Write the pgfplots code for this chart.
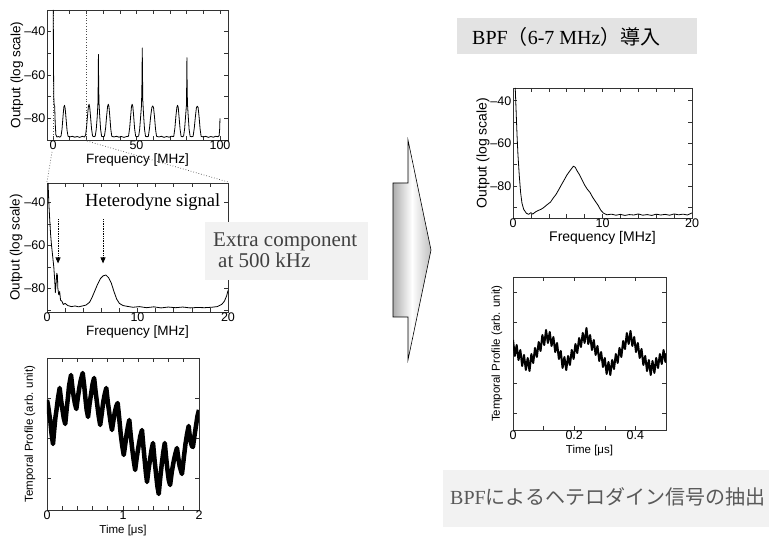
\documentclass[border=0pt]{standalone}
\usepackage{fontspec}
\setmainfont{Liberation Sans}
\newfontfamily\serif{Liberation Serif}
\newfontfamily\cjk{Noto Sans CJK JP}
\usepackage{pgfplots}
\pgfplotsset{compat=1.18}
\usetikzlibrary{arrows.meta}
\definecolor{boxlight}{HTML}{F2F2F2}
\definecolor{boxtitle}{HTML}{E3E3E3}
\definecolor{txtdark}{HTML}{404040}
\definecolor{txtgray}{HTML}{595959}

\pgfplotsset{
  matlab/.style={
    scale only axis,
    axis line style={line width=0.7pt,black!80},
    tick align=inside,
    major tick length=4pt, minor tick length=4pt,
    tick style={line width=0.6pt,black!80},
    minor tick style={line width=0.6pt,black!80},
    tick label style={font=\fontsize{12.5}{14}\selectfont},
    xticklabel style={inner sep=1pt},
    yticklabel style={inner sep=1.5pt},
    label style={font=\fontsize{13.5}{15}\selectfont},
  },
  curve/.style={black, line width=0.8pt, line join=round, no marks},
}

\begin{document}
\begin{tikzpicture}
\path[use as bounding box] (0,0) rectangle (769pt,537pt);

% top left: full spectrum 0-100 MHz
\begin{axis}[matlab, at={(47pt,527pt)}, anchor=north west,
  width=181pt, height=130pt,
  xmin=-3.6, xmax=104.8, ymin=-90, ymax=-30,
  xtick={0,50,100}, xticklabels={0,50,100},
  minor xtick={10,20,30,40,60,70,80,90},
  ytick={-80,-60,-40}, yticklabels={\textendash80,\textendash60,\textendash40},
  minor ytick={-70,-50},
  xlabel={Frequency [MHz]}, ylabel={Output (log scale)},
  xlabel style={at={(axis description cs:0.5,-0.154)},anchor=center},
  ylabel style={at={(axis description cs:-0.166,0.5)},anchor=center}]
\draw[black!70, dotted, line width=0.7pt] (axis cs:0,-90) -- (axis cs:0,-30);
\draw[black!70, dotted, line width=0.7pt] (axis cs:20,-90) -- (axis cs:20,-30);
\addplot[curve] coordinates {
(0.15,-30) (0.3,-55) (0.45,-70) (0.7,-74) (1.0,-74.5) (1.3,-82) (1.7,-87.5) (2.3,-88.6) (3.2,-88.4) (4.1,-88.7)
(4.8,-88.2) (5.4,-85) (6.0,-79) (6.5,-74.8) (6.9,-74) (7.3,-75.5) (7.8,-80) (8.4,-85.5) (9.0,-88.3)
(10.0,-88.6) (11.5,-88.3) (13.0,-88.7) (14.5,-88.4) (16.0,-88.8) (17.5,-88.3) (18.8,-88.6)
(19.5,-87.8) (20.1,-84) (20.7,-78.5) (21.2,-74.5) (21.6,-73.5) (22.0,-75) (22.5,-79.5) (23.1,-85) (23.7,-88.2)
(24.5,-88.5) (25.3,-88.2) (25.9,-85) (26.5,-79) (26.9,-73) (27.1,-62) (27.2,-50.5) (27.3,-60) (27.5,-72) (27.9,-78) (28.5,-85) (29.1,-88.3)
(30.0,-88.5) (30.8,-88.2) (31.5,-84.5) (32.1,-79) (32.7,-74.5) (33.1,-73.5) (33.5,-74.5) (34.0,-79) (34.6,-85) (35.2,-88.3)
(36.5,-88.6) (38.0,-88.3) (39.5,-88.7) (41.0,-88.4) (42.5,-88.8) (44.0,-88.4) (45.2,-88.3)
(45.9,-84.5) (46.5,-79) (47.0,-74.5) (47.4,-73.5) (47.8,-74.5) (48.3,-79) (48.9,-85) (49.5,-88.3)
(50.5,-88.5) (51.3,-88.2) (51.9,-85) (52.5,-79) (53.0,-74) (53.3,-62) (53.45,-47.5) (53.6,-60) (53.8,-72) (54.2,-78) (54.8,-85) (55.4,-88.3)
(56.3,-88.5) (57.1,-88.3) (57.8,-84.5) (58.5,-79) (59.2,-75) (59.7,-74.3) (60.2,-75) (60.8,-79.5) (61.4,-85) (62.0,-88.3)
(63.5,-88.6) (65.0,-88.3) (66.5,-88.8) (68.0,-88.4) (69.5,-88.7) (71.0,-88.3) (72.3,-88.4)
(73.0,-84.5) (73.6,-79) (74.2,-74.8) (74.6,-74) (75.0,-75) (75.5,-79.5) (76.1,-85) (76.7,-88.3)
(77.5,-88.5) (78.2,-88.2) (78.8,-85) (79.4,-79) (79.9,-74) (80.1,-62) (80.2,-52) (80.3,-62) (80.5,-73) (80.9,-78) (81.5,-85) (82.1,-88.3)
(83.0,-88.5) (83.9,-88.3) (84.6,-84.5) (85.3,-79) (85.9,-75) (86.4,-74.4) (86.9,-75) (87.5,-79.5) (88.1,-85) (88.7,-88.3)
(90.0,-88.6) (91.5,-88.3) (93.0,-88.8) (94.5,-88.4) (96.0,-88.7) (97.5,-88.3) (98.8,-88.5) (99.5,-88) (99.8,-85) (100.0,-80)
};
\end{axis}

% middle left: zoom 0-20 MHz
\begin{axis}[matlab, at={(47pt,354pt)}, anchor=north west,
  width=181pt, height=129pt,
  xmin=0, xmax=20, ymin=-91, ymax=-31,
  xtick={0,10,20}, xticklabels={0,10,20}, minor x tick num=4,
  ytick={-80,-60,-40}, yticklabels={\textendash80,\textendash60,\textendash40},
  minor ytick={-90,-70,-50},
  xlabel={Frequency [MHz]}, ylabel={Output (log scale)},
  xlabel style={at={(axis description cs:0.5,-0.158)},anchor=center},
  ylabel style={at={(axis description cs:-0.171,0.5)},anchor=center}]
\addplot[curve] coordinates {
(0.12,-31) (0.2,-40) (0.3,-48) (0.4,-55) (0.5,-60) (0.6,-64) (0.75,-70) (0.85,-76) (0.92,-82) (1.0,-78) (1.08,-73) (1.15,-74)
(1.2,-80) (1.3,-83) (1.4,-81.5) (1.5,-85.5) (1.65,-86) (1.8,-87.5) (2.0,-87) (2.3,-88) (2.7,-88.5) (3.1,-88.2) (3.5,-88.6)
(3.9,-88.2) (4.3,-87.8) (4.7,-86.5) (5.0,-84) (5.3,-81) (5.6,-78) (5.9,-75.5) (6.2,-74.2) (6.5,-73.8) (6.8,-75) (7.1,-77.5)
(7.4,-81.5) (7.7,-85) (8.0,-87) (8.4,-88) (8.9,-88.4) (9.5,-88.8) (10.2,-88.5) (11.0,-89) (11.8,-88.6) (12.6,-89.1) (13.4,-88.7)
(14.2,-89) (15.0,-88.7) (15.8,-89.1) (16.6,-88.9) (17.4,-89) (18.2,-88.8) (18.8,-88.5) (19.3,-87.5) (19.6,-86) (19.85,-83.5) (20,-81)
};
\draw[black, densely dotted, line width=0.7pt, -{Triangle[width=5pt,length=6pt]}] (axis cs:1.22,-47.8) -- (axis cs:1.22,-68.4);
\draw[black, densely dotted, line width=0.7pt, -{Triangle[width=5pt,length=6pt]}] (axis cs:6.19,-47.8) -- (axis cs:6.19,-68.4);
\end{axis}

% bottom left: temporal profile 0-2 us
\begin{axis}[matlab, at={(47pt,179pt)}, anchor=north west,
  width=152pt, height=152pt,
  xmin=0, xmax=2, ymin=0, ymax=152,
  xtick={0,1,2}, xticklabels={0,1,2}, minor x tick num=4,
  ytick={32,72,112}, yticklabels={},
  label style={font=\fontsize{11.5}{13}\selectfont},
  xlabel={Time [μs]}, ylabel={Temporal Profile (arb. unit)},
  xlabel style={at={(axis description cs:0.5,-0.132)},anchor=center},
  ylabel style={at={(axis description cs:-0.112,0.5)},anchor=center}]
\addplot[black, line width=4.5pt, line join=round, no marks] coordinates {
(0.000,110) (0.015,104) (0.030,96) (0.045,88) (0.060,76) (0.079,66) (0.095,80) (0.110,92) (0.125,100) (0.145,112)
(0.167,122) (0.185,110) (0.200,102) (0.220,92) (0.240,86) (0.260,102) (0.275,112) (0.290,124) (0.316,135) (0.335,122)
(0.350,114) (0.368,106) (0.386,101) (0.405,112) (0.425,122) (0.445,130) (0.470,137) (0.490,124) (0.505,112) (0.522,100)
(0.540,93) (0.560,106) (0.580,116) (0.600,126) (0.620,132) (0.640,118) (0.660,106) (0.680,94) (0.700,85) (0.720,96)
(0.740,108) (0.760,116) (0.780,122) (0.800,108) (0.818,98) (0.836,88) (0.855,80) (0.875,90) (0.893,98) (0.912,104)
(0.930,107) (0.950,92) (0.970,76) (0.990,64) (1.010,55) (1.030,66) (1.048,76) (1.066,84) (1.083,90) (1.100,76)
(1.120,62) (1.140,50) (1.160,40) (1.180,52) (1.205,64) (1.228,74) (1.250,80) (1.268,64) (1.285,50) (1.300,38)
(1.316,28) (1.335,40) (1.355,50) (1.375,60) (1.395,67) (1.415,50) (1.435,36) (1.452,24) (1.470,16) (1.490,32)
(1.510,46) (1.530,58) (1.550,67) (1.568,52) (1.585,40) (1.602,30) (1.620,25) (1.642,38) (1.665,48) (1.688,56)
(1.710,62) (1.728,52) (1.745,44) (1.760,40) (1.776,36) (1.800,52) (1.822,66) (1.843,76) (1.864,84) (1.878,74)
(1.892,68) (1.906,64) (1.920,63) (1.940,74) (1.960,84) (1.980,94) (2.000,100)
};
\end{axis}

% top right: spectrum after BPF
\begin{axis}[matlab, at={(513pt,449pt)}, anchor=north west,
  width=179pt, height=130pt,
  xmin=0, xmax=20, ymin=-95, ymax=-34,
  xtick={0,10,20}, xticklabels={0,10,20}, minor x tick num=4,
  ytick={-80,-60,-40}, yticklabels={\textendash80,\textendash60,\textendash40},
  minor ytick={-90,-70,-50},
  label style={font=\fontsize{14}{16}\selectfont},
  xlabel={Frequency [MHz]}, ylabel={Output (log scale)},
  xlabel style={at={(axis description cs:0.5,-0.154)},anchor=center},
  ylabel style={at={(axis description cs:-0.168,0.5)},anchor=center}]
\addplot[curve] coordinates {
(0.25,-34) (0.35,-45) (0.45,-56) (0.55,-65) (0.7,-75) (0.85,-83) (1.0,-88) (1.2,-91) (1.5,-92.8) (1.75,-93.3) (2.0,-92.5)
(2.2,-93.2) (2.5,-92.2) (2.8,-91.5) (3.1,-91) (3.4,-90.2) (3.8,-88.8) (4.2,-87.5) (4.5,-85.6) (4.8,-84) (5.1,-81.8)
(5.4,-79.5) (5.7,-77.3) (6.0,-75) (6.3,-73.2) (6.55,-71.8) (6.75,-70.7) (6.95,-71.2) (7.15,-72.8) (7.4,-74.5) (7.7,-77)
(8.0,-79.5) (8.3,-81.5) (8.6,-83) (8.9,-85.3) (9.2,-87.2) (9.5,-89) (9.8,-91.3) (10.1,-92.7) (10.5,-93.5) (11,-93.2)
(11.5,-93.7) (12,-93.3) (12.5,-93.8) (13,-93.4) (13.5,-93.6) (14,-93.1) (14.5,-93.7) (15,-93.4) (15.5,-93.8) (16,-93.2)
(16.5,-93.6) (17,-93.3) (17.5,-93.7) (18,-93.1) (18.5,-93.5) (19,-93.2) (19.5,-93.6) (20,-92.6)
};
\end{axis}

% bottom right: temporal profile after BPF
\begin{axis}[matlab, at={(513pt,260pt)}, anchor=north west,
  width=153pt, height=153pt,
  xmin=0, xmax=0.5, ymin=0, ymax=153,
  xtick={0,0.2,0.4}, xticklabels={0,0.2,0.4}, minor xtick={0.1,0.3},
  ytick={17,47,77,108,138}, yticklabels={},
  label style={font=\fontsize{11.5}{13}\selectfont},
  xlabel={Time [μs]}, ylabel={Temporal Profile (arb. unit)},
  xlabel style={at={(axis description cs:0.5,-0.131)},anchor=center},
  ylabel style={at={(axis description cs:-0.105,0.5)},anchor=center}]
\addplot[black, line width=2pt, line join=round, no marks] coordinates {
(0.000,90) (0.006,74) (0.012,85) (0.018,70) (0.024,80) (0.030,64) (0.036,75) (0.042,60) (0.048,72) (0.054,59)
(0.060,76) (0.066,67) (0.072,82) (0.078,73) (0.084,88) (0.090,79) (0.096,95) (0.102,85) (0.108,100) (0.114,87)
(0.120,98) (0.126,84) (0.132,93) (0.138,78) (0.144,87) (0.150,71) (0.156,79) (0.162,62) (0.168,73) (0.174,60)
(0.180,74) (0.186,65) (0.192,80) (0.198,71) (0.204,86) (0.210,77) (0.216,92) (0.222,83) (0.228,97) (0.234,87)
(0.240,102) (0.246,86) (0.252,95) (0.258,80) (0.264,90) (0.270,75) (0.276,84) (0.282,69) (0.288,78) (0.294,63)
(0.300,72) (0.306,56) (0.312,68) (0.318,55) (0.324,70) (0.330,61) (0.336,76) (0.342,67) (0.348,82) (0.354,73)
(0.360,89) (0.366,81) (0.372,97) (0.378,86) (0.384,99) (0.390,84) (0.396,93) (0.402,78) (0.408,87) (0.414,72)
(0.420,81) (0.426,65) (0.432,74) (0.438,59) (0.444,70) (0.450,55) (0.456,69) (0.462,57) (0.468,72) (0.474,62)
(0.480,76) (0.486,66) (0.492,80) (0.498,68) (0.500,76)
};
\end{axis}

% zoom connectors
\draw[black!70, dotted, line width=0.7pt] (52pt,385pt) -- (47pt,355pt);
\draw[black!70, dotted, line width=0.7pt] (87pt,396pt) -- (228pt,355pt);

% annotations
\node[anchor=base west, inner sep=0pt, font=\serif\fontsize{18.5}{20}\selectfont] at (85pt,330pt) {Heterodyne signal};
\fill[boxlight] (205pt,315pt) rectangle (368pt,257pt);
\node[anchor=base west, inner sep=0pt, text=txtdark, font=\serif\fontsize{21}{23}\selectfont] at (213pt,290pt) {Extra component};
\node[anchor=base west, inner sep=0pt, text=txtdark, font=\serif\fontsize{21}{23}\selectfont] at (218pt,269pt) {at 500 kHz};

% big arrow
\draw[line width=0.6pt, left color=black!32, right color=black!25, middle color=white]
  (393pt,354pt) -- (408pt,354pt) -- (408pt,397pt) -- (431pt,287pt) -- (408pt,177pt) -- (408pt,220pt) -- (393pt,220pt) -- cycle;

% title box
\fill[boxtitle] (457pt,519pt) rectangle (697pt,483pt);
\node[anchor=base west, inner sep=0pt, font=\fontsize{20}{22}\selectfont] at (472pt,492pt) {\serif BPF\cjk （\serif 6-7 MHz\cjk ）導入};

% bottom box
\fill[boxlight] (443pt,67pt) rectangle (769pt,10pt);
\node[anchor=base west, inner sep=0pt, text=txtgray, font=\fontsize{20}{22}\selectfont] at (450pt,32pt) {\serif BPF\cjk によるヘテロダイン信号の抽出};
\end{tikzpicture}
\end{document}
